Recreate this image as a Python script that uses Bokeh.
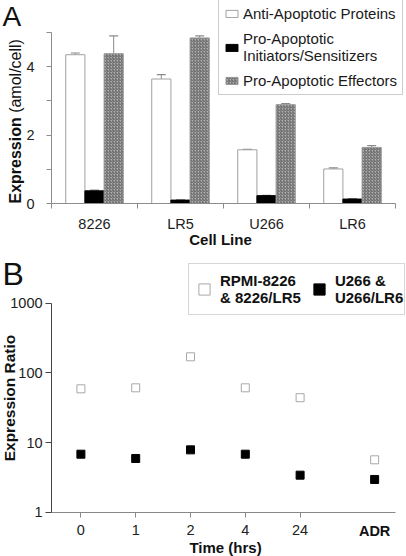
import numpy as np
from bokeh.plotting import figure
from bokeh.layouts import column
from bokeh.models import (Range1d, FixedTicker, Whisker, TeeHead, ColumnDataSource,
                          Legend, LegendItem, Label, BasicTickFormatter)
from bokeh.embed import file_html
from bokeh.resources import INLINE

# ---------------- data ----------------
cell_lines = ["8226", "LR5", "U266", "LR6"]
anti_apoptotic = [4.35, 3.64, 1.57, 1.01]
anti_err = [0.05, 0.13, 0.01, 0.03]
pro_initiators = [0.37, 0.10, 0.23, 0.13]
pro_init_err = [0.02, 0.01, 0.01, 0.01]
pro_effectors = [4.38, 4.84, 2.89, 1.64]
pro_eff_err = [0.52, 0.06, 0.03, 0.05]

time_labels = ["0", "1", "2", "4", "24", "ADR"]
time_pos = [0, 1, 2, 3, 4, 5.36]
ratio_rpmi = [59, 61, 170, 61, 44, 5.65]
ratio_u266 = [6.8, 5.9, 7.85, 6.8, 3.4, 2.95]

FONT = "Liberation Sans"
TXT = "#111111"

# ---------------- panel A ----------------
pa = figure(width=406, height=256, output_backend="svg", toolbar_location=None,
            x_range=Range1d(-0.5930, 4.1279), y_range=Range1d(-1.5497, 5.9357),
            min_border=0, min_border_left=0, min_border_right=0,
            min_border_top=0, min_border_bottom=0)
pa.outline_line_color = None
pa.grid.visible = False

n = len(cell_lines)
centers = np.arange(n) + 0.5
bw = 0.223
series = [
    ("Anti-Apoptotic Proteins", anti_apoptotic, anti_err, -bw,
     dict(fill_color="white", line_color="#a0a0a0")),
    ("Pro-Apoptotic\nInitiators/Sensitizers", pro_initiators, pro_init_err, 0.0,
     dict(fill_color="black", line_color="black")),
    ("Pro-Apoptotic Effectors", pro_effectors, pro_eff_err, bw,
     dict(fill_color="#b0b0b0", line_color="#9a9a9a", hatch_pattern="/", hatch_color="#5e5e5e",
          hatch_scale=3, hatch_weight=1)),
]
items = []
for label, vals, errs, off, style in series:
    xs = centers + off
    vals = np.array(vals)
    errs = np.array(errs)
    src = ColumnDataSource(dict(x=xs, top=vals, upper=vals + errs))
    r = pa.vbar(x="x", top="top", bottom=0, width=bw, source=src, line_width=1, **style)
    w = Whisker(base="x", lower="top", upper="upper", source=src, dimension="height",
                line_color="#8a8a8a", line_width=1,
                upper_head=TeeHead(size=9, line_color="#8a8a8a", line_width=1.2),
                lower_head=None)
    pa.add_layout(w)
    items.append(LegendItem(label=label, renderers=[r]))

legA = Legend(items=items, location=(218, 161), margin=0, padding=5, spacing=8,
              border_line_color="#9a9a9a", border_line_width=1,
              label_text_font=FONT, label_text_font_size="15px", label_text_color="#1a1a1a",
              glyph_width=15, glyph_height=9, label_standoff=4, label_height=16,
              background_fill_alpha=1)
pa.add_layout(legA, "center")

pa.yaxis.fixed_location = 0
pa.yaxis.bounds = (0, 5)
pa.yaxis.ticker = FixedTicker(ticks=[0, 1, 2, 3, 4, 5], minor_ticks=[])
pa.yaxis.major_label_overrides = {1: "", 3: "", 5: ""}
pa.yaxis.major_tick_in = 0
pa.yaxis.major_tick_out = 5
pa.yaxis.axis_line_color = "#8c8c8c"
pa.yaxis.major_tick_line_color = "#8c8c8c"
pa.yaxis.major_label_text_font = FONT
pa.yaxis.major_label_text_font_size = "14.5px"
pa.yaxis.major_label_text_color = "#222222"
pa.yaxis.major_label_standoff = 12

pa.xaxis.fixed_location = 0
pa.xaxis.bounds = (0, 4)
pa.xaxis.ticker = FixedTicker(ticks=list(centers), minor_ticks=list(range(n + 1)))
pa.xaxis.major_label_overrides = {float(c): cl for c, cl in zip(centers, cell_lines)}
pa.xaxis.major_tick_in = 0
pa.xaxis.major_tick_out = 0
pa.xaxis.minor_tick_in = 0
pa.xaxis.minor_tick_out = 5
pa.xaxis.axis_line_color = "#8c8c8c"
pa.xaxis.minor_tick_line_color = "#8c8c8c"
pa.xaxis.major_label_text_font = FONT
pa.xaxis.major_label_text_font_size = "14.5px"
pa.xaxis.major_label_text_color = "#222222"
pa.xaxis.major_label_standoff = 7

# titles of panel A
pa.add_layout(Label(x=-0.570, y=5.93, text="A", text_font=FONT, text_font_size="28px",
                    text_align="left", text_baseline="top", text_color=TXT))
pa.add_layout(Label(x=-0.4186, y=0.0, angle=np.pi / 2, text="Expression", text_font=FONT,
                    text_font_size="16px", text_font_style="bold", text_align="left",
                    text_baseline="middle", text_color=TXT))
pa.add_layout(Label(x=-0.4186, y=2.65, angle=np.pi / 2, text="(amol/cell)", text_font=FONT,
                    text_font_size="16px", text_align="left",
                    text_baseline="middle", text_color=TXT))
pa.add_layout(Label(x=1.965, y=-1.067, text="Cell Line", text_font=FONT, text_font_size="15px",
                    text_font_style="bold", text_align="center", text_baseline="middle",
                    text_color=TXT))

# ---------------- panel B ----------------
pb = figure(width=406, height=300, output_backend="svg", toolbar_location=None,
            y_axis_type="log",
            x_range=Range1d(-1.4672, 5.9416), y_range=Range1d(10 ** -0.6359, 10 ** 3.6702),
            min_border=0, min_border_left=0, min_border_right=0,
            min_border_top=0, min_border_bottom=0)
pb.outline_line_color = None
pb.grid.visible = False

r1 = pb.scatter(time_pos, ratio_rpmi, marker="square", size=8, fill_color="white",
                line_color="#a8a8a8", line_width=1)
r2 = pb.scatter(time_pos, ratio_u266, marker="square", size=8, fill_color="black",
                line_color="black")

legB = Legend(items=[LegendItem(label="RPMI-8226\n& 8226/LR5", renderers=[r1]),
                     LegendItem(label="U266 &\nU266/LR6", renderers=[r2])],
              location=(188, 241), orientation="horizontal", margin=0, padding=1, spacing=4,
              border_line_color="#b0b0b0", border_line_width=1,
              label_text_font=FONT, label_text_font_size="15px", label_text_font_style="bold",
              label_text_color=TXT, glyph_width=28, glyph_height=48, label_standoff=2,
              background_fill_alpha=1)
pb.add_layout(legB, "center")

pb.yaxis.fixed_location = -0.536
pb.yaxis.bounds = (1, 1000)
pb.yaxis.ticker = FixedTicker(ticks=[1, 10, 100, 1000], minor_ticks=[])
pb.yaxis.formatter = BasicTickFormatter()
pb.yaxis.major_tick_in = 0
pb.yaxis.major_tick_out = 6
pb.yaxis.axis_line_color = "#444444"
pb.yaxis.major_tick_line_color = "#444444"
pb.yaxis.major_label_text_font = FONT
pb.yaxis.major_label_text_font_size = "14.5px"
pb.yaxis.major_label_text_color = "#222222"
pb.yaxis.major_label_standoff = 3

pb.xaxis.fixed_location = 1
pb.xaxis.bounds = (-0.536, 5.741)
pb.xaxis.ticker = FixedTicker(ticks=time_pos[:5], minor_ticks=[])
pb.xaxis.major_label_overrides = {p: t for p, t in zip(time_pos[:5], time_labels[:5])}
pb.xaxis.major_tick_in = 0
pb.xaxis.major_tick_out = 5
pb.xaxis.axis_line_color = "#888888"
pb.xaxis.major_tick_line_color = "#888888"
pb.xaxis.major_label_text_font = FONT
pb.xaxis.major_label_text_font_size = "14.5px"
pb.xaxis.major_label_text_color = "#222222"
pb.xaxis.major_label_standoff = 8

pb.add_layout(Label(x=time_pos[5], y=10 ** -0.277, text=time_labels[5], text_font=FONT,
                    text_font_size="14.5px", text_font_style="bold", text_align="center",
                    text_baseline="middle", text_color=TXT))
pb.add_layout(Label(x=-1.431, y=10 ** 3.419, text="B", text_font=FONT, text_font_size="32px",
                    text_align="left", text_baseline="middle", text_color=TXT))
pb.add_layout(Label(x=-1.312, y=10 ** 1.639, angle=np.pi / 2, text="Expression Ratio",
                    text_font=FONT, text_font_size="15.5px", text_font_style="bold",
                    text_align="center", text_baseline="middle", text_color=TXT))
pb.add_layout(Label(x=2.639, y=10 ** -0.507, text="Time (hrs)", text_font=FONT,
                    text_font_size="15px", text_font_style="bold", text_align="center",
                    text_baseline="middle", text_color=TXT))

layout = column(pa, pb, spacing=0)
open("out.html", "w").write(file_html(layout, INLINE))
